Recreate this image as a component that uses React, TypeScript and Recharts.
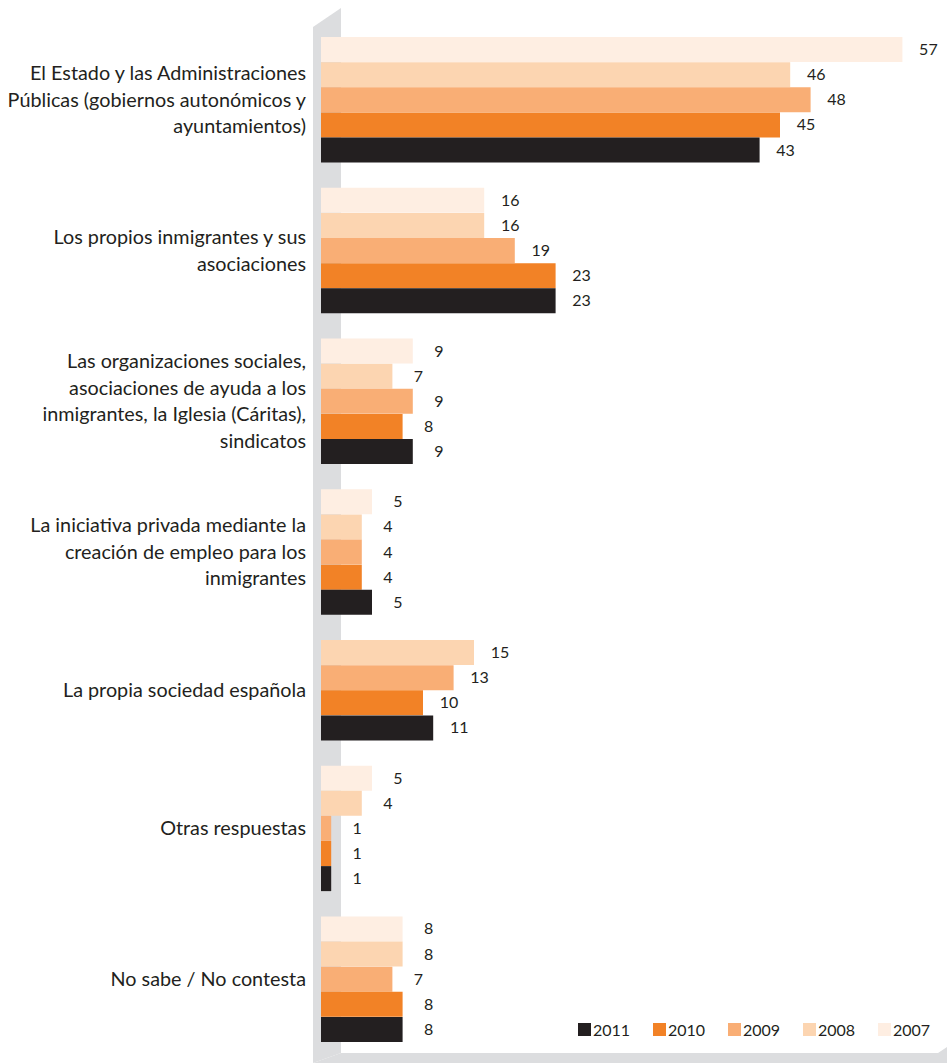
import React from "react";
import { BarChart, Bar, XAxis, YAxis, Cell, LabelList, Legend } from "recharts";

// category labels, already broken into the lines used in the original
const categoryLines: string[][] = [
  ["El Estado y las Administraciones", "Públicas (gobiernos autonómicos y", "ayuntamientos)"],
  ["Los propios inmigrantes y sus", "asociaciones"],
  ["Las organizaciones sociales,", "asociaciones de ayuda a los", "inmigrantes, la Iglesia (Cáritas),", "sindicatos"],
  ["La iniciativa privada mediante la", "creación de empleo para los", "inmigrantes"],
  ["La propia sociedad española"],
  ["Otras respuestas"],
  ["No sabe / No contesta"],
];

const years = ["2007", "2008", "2009", "2010", "2011"];
const legendYears = ["2011", "2010", "2009", "2008", "2007"];

const values2007 = [57, 16, 9, 5, null, 5, 8];
const values2008 = [46, 16, 7, 4, 15, 4, 8];
const values2009 = [48, 19, 9, 4, 13, 1, 7];
const values2010 = [45, 23, 8, 4, 10, 1, 8];
const values2011 = [43, 23, 9, 5, 11, 1, 8];

const valuesByYear: Record<string, (number | null)[]> = {
  "2007": values2007,
  "2008": values2008,
  "2009": values2009,
  "2010": values2010,
  "2011": values2011,
};

const COLORS: Record<string, string> = {
  "2007": "#feeee2",
  "2008": "#fcd5b1",
  "2009": "#f9ae75",
  "2010": "#f28226",
  "2011": "#231f20",
};

const WIDTH = 947;
const HEIGHT = 1063;
const MARGIN = { top: 37, right: 14, bottom: 21, left: 0 };
const FONT = "Lato, 'Open Sans', sans-serif";
const TEXT = "#231f20";
const WALL = "#dcdddf";
const LABEL_RIGHT = 306;
const LINE_H = 26.5;

interface Row {
  key: string;
  year: string | null;
  value: number | null;
  group: number;
  first: boolean;
  count: number;
}

// one band per bar, plus an empty band between groups
const rows: Row[] = [];
categoryLines.forEach((_, g) => {
  const present = years.filter((y) => valuesByYear[y][g] != null);
  present.forEach((y, i) =>
    rows.push({ key: `${g}-${y}`, year: y, value: valuesByYear[y][g], group: g, first: i === 0, count: present.length })
  );
  if (g < categoryLines.length - 1) {
    rows.push({ key: `gap-${g}`, year: null, value: null, group: g, first: false, count: 0 });
  }
});
const rowByKey: Record<string, Row> = {};
rows.forEach((r) => (rowByKey[r.key] = r));

const BAND = (HEIGHT - MARGIN.top - MARGIN.bottom) / rows.length;

function CategoryTick(props: any) {
  const row = rowByKey[props.payload?.value];
  if (!row || !row.first) return <g />;
  const lines = categoryLines[row.group];
  const cy = props.y + ((row.count - 1) / 2) * BAND;
  const start = cy - ((lines.length - 1) / 2) * LINE_H;
  return (
    <text x={LABEL_RIGHT} textAnchor="end" fontFamily={FONT} fontSize={19.8} fill={TEXT}>
      {lines.map((l, i) => (
        <tspan key={i} x={LABEL_RIGHT} y={start + i * LINE_H} dy="0.35em">
          {l}
        </tspan>
      ))}
    </text>
  );
}

function ValueLabel(props: any) {
  const { x, y, width, height, value } = props;
  if (value == null) return null;
  return (
    <text
      x={Number(x) + Number(width) + 26}
      y={Number(y) + Number(height) / 2}
      dy="0.35em"
      textAnchor="middle"
      fontFamily={FONT}
      fontSize={16}
      fill={TEXT}
    >
      {value}
    </text>
  );
}

function YearLegend() {
  return (
    <div style={{ display: "flex", fontFamily: FONT, fontSize: 16, color: TEXT }}>
      {legendYears.map((y) => (
        <div key={y} style={{ display: "flex", alignItems: "center", width: 75 }}>
          <span style={{ width: 13, height: 13, background: COLORS[y], marginRight: 2, display: "inline-block" }} />
          <span>{y}</span>
        </div>
      ))}
    </div>
  );
}

export default function App() {
  return (
    <div style={{ position: "absolute", left: 0, top: 0, width: WIDTH, height: HEIGHT, background: "#fff" }}>
      <svg width={WIDTH} height={HEIGHT} style={{ position: "absolute", left: 0, top: 0 }}>
        <polygon points="313,27 341,8 341,1053 313,1063" fill={WALL} />
        <polygon points="341,1053 938,1053 947,1047 947,1063 313,1063" fill={WALL} />
      </svg>
      <div style={{ position: "absolute", left: 0, top: 0 }}>
        <BarChart width={WIDTH} height={HEIGHT} data={rows} layout="vertical" margin={MARGIN} barCategoryGap={0}>
          <XAxis type="number" domain={[0, 60]} hide />
          <YAxis
            type="category"
            dataKey="key"
            width={321}
            axisLine={false}
            tickLine={false}
            interval={0}
            tick={<CategoryTick />}
          />
          <Legend
            layout="horizontal"
            verticalAlign="middle"
            align="center"
            wrapperStyle={{ left: 578, top: 1020, width: 380, height: 20 }}
            content={<YearLegend />}
          />
          <Bar dataKey="value" isAnimationActive={false}>
            {rows.map((r) => (
              <Cell key={r.key} fill={r.year ? COLORS[r.year] : "none"} />
            ))}
            <LabelList dataKey="value" content={<ValueLabel />} />
          </Bar>
        </BarChart>
      </div>
    </div>
  );
}
